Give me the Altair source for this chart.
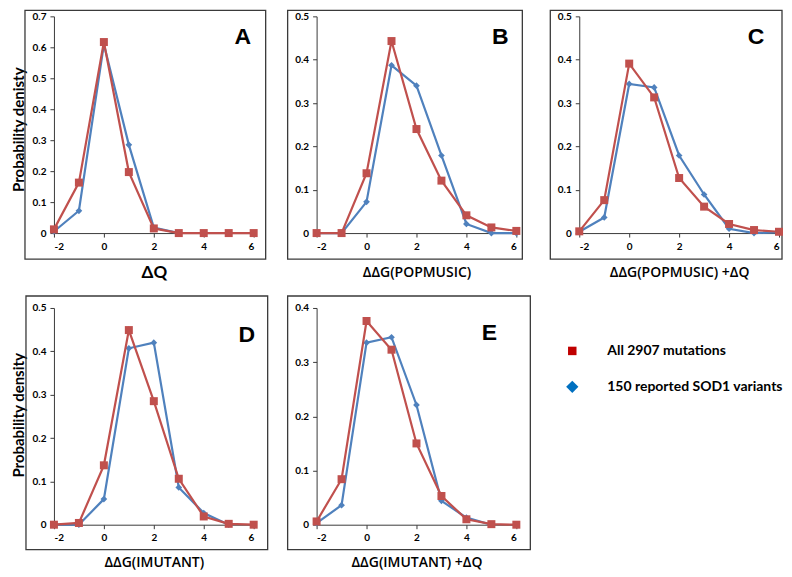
import altair as alt
import pandas as pd

# ---------------- data ----------------
x_vals = [-2, -1, 0, 1, 2, 3, 4, 5, 6]

a_all = [0.012, 0.163, 0.617, 0.197, 0.015, 0.0, 0.0, 0.0, 0.0]
a_sod = [0.005, 0.072, 0.610, 0.285, 0.018, 0.0]
b_all = [0.0, 0.0, 0.138, 0.443, 0.240, 0.121, 0.041, 0.013, 0.005]
b_sod = [0.0, 0.0, 0.072, 0.387, 0.340, 0.179, 0.021, 0.0, 0.0]
c_all = [0.004, 0.076, 0.391, 0.313, 0.127, 0.061, 0.021, 0.007, 0.003]
c_sod = [0.003, 0.036, 0.344, 0.336, 0.179, 0.089, 0.010, 0.0, 0.002]
d_all = [0.0, 0.004, 0.137, 0.449, 0.285, 0.106, 0.019, 0.002, 0.0]
d_sod = [0.0, 0.0, 0.059, 0.407, 0.420, 0.086, 0.027, 0.0]
e_all = [0.006, 0.084, 0.376, 0.323, 0.150, 0.053, 0.010, 0.001, 0.0]
e_sod = [0.003, 0.036, 0.336, 0.346, 0.221, 0.044, 0.013, 0.0]

x_ticks = [-2, 0, 2, 4, 6]
y_ticks_07 = [0, 0.1, 0.2, 0.3, 0.4, 0.5, 0.6, 0.7]
y_ticks_05 = [0, 0.1, 0.2, 0.3, 0.4, 0.5]
y_ticks_04 = [0, 0.1, 0.2, 0.3, 0.4]

legend_labels = ["All 2907 mutations", "150 reported SOD1 variants"]
legend_colors = ["#C00000", "#0070C0"]
legend_shapes = ["square", "diamond"]

RED = "#C0504D"
BLUE = "#4F81BD"
FONT = "Lato, 'Noto Sans', sans-serif"
SEMI = "'Open Sans', Lato, sans-serif"
W = 200
H = 217


def series_df(vals):
    return pd.DataFrame({"x": x_vals[:len(vals)], "y": vals})


def make_panel(all_vals, sod_vals, yticks, xtitle, xbold, ytitle, ytitle_y,
               letter, lpos, box, xtitle_dy):
    ymax = yticks[-1]
    xaxis = alt.Axis(values=x_ticks, labelExpr="'' + datum.value",
                     title=xtitle, titleX=W / 2, titleY=xtitle_dy,
                     titleBaseline="middle",
                     titleFont=FONT if xbold else SEMI,
                     titleFontSize=17 if xbold else 14,
                     titleFontWeight="bold" if xbold else 600)
    if ytitle:
        yaxis = alt.Axis(values=yticks,
                         labelExpr="datum.value == 0 ? '0' : format(datum.value, '.1f')",
                         title=ytitle, titleX=-35, titleY=ytitle_y,
                         titleAngle=270, titleBaseline="middle",
                         titleAlign="center", titleFontSize=15,
                         titleFontWeight="bold")
    else:
        yaxis = alt.Axis(values=yticks,
                         labelExpr="datum.value == 0 ? '0' : format(datum.value, '.1f')",
                         title=None)
    xs = alt.Scale(domain=[-2, 6], nice=False, zero=False)
    ys = alt.Scale(domain=[0, ymax], nice=False)

    one = pd.DataFrame({"k": [0]})
    frame = alt.Chart(one).mark_rect(filled=False, stroke="#3a3a3a",
                                     strokeWidth=1.3).encode(
        x=alt.value(box[0]), x2=alt.value(W + box[1]),
        y=alt.value(box[2]), y2=alt.value(H + box[3]))

    blue = alt.Chart(series_df(sod_vals)).mark_line(
        color=BLUE, strokeWidth=2.2,
        point=alt.OverlayMarkDef(shape="diamond", size=45, filled=True,
                                 color=BLUE, opacity=1)).encode(
        x=alt.X("x:Q", scale=xs, axis=xaxis),
        y=alt.Y("y:Q", scale=ys, axis=yaxis))
    red = alt.Chart(series_df(all_vals)).mark_line(
        color=RED, strokeWidth=2.2,
        point=alt.OverlayMarkDef(shape="square", size=64, filled=True,
                                 color=RED, opacity=1)).encode(
        x=alt.X("x:Q", scale=xs, axis=xaxis),
        y=alt.Y("y:Q", scale=ys, axis=yaxis))
    lab = alt.Chart(one).mark_text(font="'Liberation Sans', Arial, sans-serif",
                                   fontSize=23, fontWeight="bold",
                                   color="#000", align="center",
                                   baseline="middle").encode(
        x=alt.value(lpos[0]), y=alt.value(lpos[1]), text=alt.value(letter))
    return alt.layer(frame, blue, red, lab).properties(width=W, height=H)


pA = make_panel(a_all, a_sod, y_ticks_07, "ΔQ", True, "Probability denisty",
                113, "A", (189, 21), (-29, 12, -6, 26), 39)
pB = make_panel(b_all, b_sod, y_ticks_05, "ΔΔG(POPMUSIC)", False, None, 0,
                "B", (184, 21), (-29, 6, -6, 26), 39)
pC = make_panel(c_all, c_sod, y_ticks_05, "ΔΔG(POPMUSIC) +ΔQ", False, None, 0,
                "C", (177, 21), (-29, 3, -6, 26), 39)
pD = make_panel(d_all, d_sod, y_ticks_05, "ΔΔG(IMUTANT)", False,
                "Probability density", 107, "D", (193, 27),
                (-28, 14, -12, 25), 38)
pE = make_panel(e_all, e_sod, y_ticks_04, "ΔΔG(IMUTANT) +ΔQ", False, None, 0,
                "E", (173, 25), (-29, 14, -12, 25), 38)

legend_df = pd.DataFrame({"label": legend_labels, "color": legend_colors,
                          "shape": legend_shapes})
ly = alt.Y("label:N", sort=legend_labels,
           scale=alt.Scale(domain=legend_labels, range=[43, 79], padding=0),
           axis=None)
leg_pts = alt.Chart(legend_df).mark_point(filled=True, opacity=1).encode(
    y=ly, x=alt.value(-7),
    shape=alt.Shape("label:N", scale=alt.Scale(domain=legend_labels,
                                               range=legend_shapes), legend=None),
    color=alt.Color("label:N", scale=alt.Scale(domain=legend_labels,
                                               range=legend_colors), legend=None),
    size=alt.Size("label:N", scale=alt.Scale(domain=legend_labels,
                                             range=[72, 150]), legend=None))
leg_txt = alt.Chart(legend_df).mark_text(align="left", baseline="middle",
                                         font=FONT, fontSize=14,
                                         fontWeight="bold", color="#000").encode(
    y=ly, x=alt.value(28), text="label:N")
pL = alt.layer(leg_pts, leg_txt).properties(width=W, height=H)

chart = alt.concat(pA, pB, pC, pD, pE, pL, columns=3,
                   spacing={"row": 75, "column": 63}, bounds="flush").properties(
    padding={"left": 3, "top": 0, "right": 0, "bottom": 0}, background="white"
).configure_view(stroke="transparent").configure_axis(
    grid=False, domainColor="#3a3a3a", tickColor="#3a3a3a", tickSize=4,
    domainWidth=1, tickWidth=1, labelFont=FONT, labelFontWeight="bold",
    labelFontSize=10, labelColor="#000", labelPadding=4, titleFont=FONT,
    titleColor="#000")

chart.save("out.html", embed_options={"renderer": "svg", "actions": False})
